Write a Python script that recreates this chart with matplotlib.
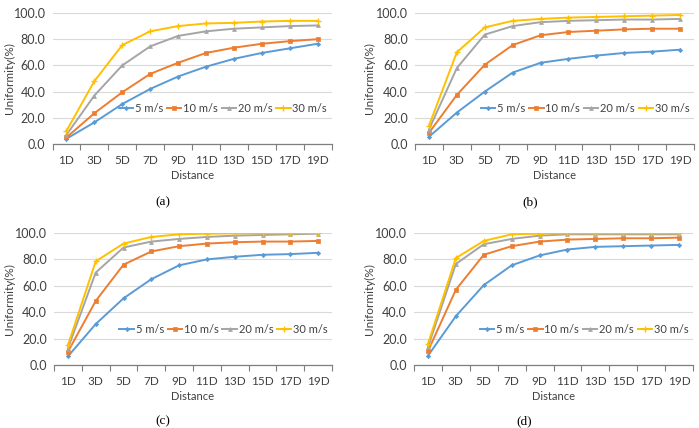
import matplotlib
matplotlib.use("Agg")
import matplotlib.pyplot as plt
from matplotlib.ticker import FixedLocator, NullFormatter
from matplotlib.transforms import blended_transform_factory

categories = ["1D", "3D", "5D", "7D", "9D", "11D", "13D", "15D", "17D", "19D"]
series_names = ["5 m/s", "10 m/s", "20 m/s", "30 m/s"]
yticks = [0, 20, 40, 60, 80, 100]

a_5 = [4.0, 16.5, 30.5, 42.0, 51.5, 59.0, 65.0, 69.5, 73.0, 76.5]
a_10 = [5.0, 23.5, 39.5, 53.5, 62.0, 69.5, 73.5, 76.5, 78.5, 80.0]
a_20 = [7.0, 37.0, 60.0, 74.5, 82.5, 86.0, 88.0, 89.0, 90.0, 90.5]
a_30 = [10.0, 48.0, 75.5, 86.0, 90.0, 92.0, 92.5, 93.5, 94.0, 94.0]

b_5 = [5.5, 24.0, 40.0, 54.5, 62.0, 65.0, 67.5, 69.5, 70.5, 72.0]
b_10 = [8.5, 37.5, 60.5, 75.5, 83.0, 85.5, 86.5, 87.5, 88.0, 88.0]
b_20 = [11.0, 58.0, 83.5, 90.0, 93.0, 94.0, 94.5, 95.0, 95.0, 95.5]
b_30 = [14.0, 70.0, 89.0, 94.0, 95.5, 96.5, 97.0, 97.5, 98.0, 98.5]

c_5 = [6.5, 31.0, 50.5, 65.0, 75.5, 80.0, 82.0, 83.5, 84.0, 85.0]
c_10 = [10.0, 48.5, 76.0, 86.0, 90.0, 92.0, 93.0, 93.5, 93.5, 94.0]
c_20 = [12.5, 70.0, 89.0, 93.5, 95.5, 97.0, 98.0, 98.5, 99.0, 99.5]
c_30 = [15.0, 78.5, 92.0, 97.0, 99.0, 99.5, 99.7, 99.8, 99.8, 100.0]

d_5 = [7.0, 37.0, 60.5, 75.5, 83.0, 87.5, 89.5, 90.0, 90.5, 91.0]
d_10 = [10.5, 57.0, 83.5, 90.0, 93.5, 95.0, 95.5, 96.0, 96.0, 96.5]
d_20 = [13.5, 76.5, 91.5, 95.5, 98.0, 99.0, 99.0, 99.0, 99.0, 99.0]
d_30 = [16.0, 81.0, 94.0, 99.0, 99.5, 99.8, 99.8, 99.8, 99.8, 99.8]

captions = ["(a)", "(b)", "(c)", "(d)"]
panels = [
    [a_5, a_10, a_20, a_30],
    [b_5, b_10, b_20, b_30],
    [c_5, c_10, c_20, c_30],
    [d_5, d_10, d_20, d_30],
]

colors = ["#5B9BD5", "#ED7D31", "#A5A5A5", "#FFC000"]
markers = ["D", "s", "^", "+"]
msizes = [2.2, 2.6, 2.8, 4.0]

plt.rcParams["font.family"] = ["Lato", "DejaVu Sans"]

W, H = 699, 428
fig = plt.figure(figsize=(W / 100, H / 100), dpi=100)

# pixel boxes: left, right, top(100), bottom(0)
boxes = [
    (52.5, 331.5, 13, 144),
    (415, 694, 13, 144),
    (54, 332, 233, 365),
    (414, 693, 233, 365),
]
ylabel_x = [9, 369, 9, 369]
cap_pos = [(163, 202), (530, 202), (163, 421), (524, 421)]

for i, (box, data) in enumerate(zip(boxes, panels)):
    l, r, t, b = box
    ax = fig.add_axes([l / W, 1 - b / H, (r - l) / W, (b - t) / H])
    x = list(range(len(categories)))
    for s, name in enumerate(series_names):
        ax.plot(x, data[s], color=colors[s], marker=markers[s], ms=msizes[s],
                lw=1.4, label=name, mew=1.0 if markers[s] == "+" else 0.5)
    ax.set_xlim(-0.5, len(categories) - 0.5)
    ax.set_ylim(0, 100)
    ax.set_yticks(yticks)
    ax.set_yticklabels([f"{v:.1f}" for v in yticks])
    ax.set_xticks(x)
    ax.set_xticklabels(categories)
    ax.xaxis.set_minor_locator(FixedLocator([k - 0.5 for k in range(len(categories) + 1)]))
    ax.xaxis.set_minor_formatter(NullFormatter())
    ax.tick_params(axis="x", which="major", length=0, pad=8, labelsize=8.5, colors="#404040")
    ax.tick_params(axis="x", which="minor", length=4, width=0.8, color="#7f7f7f", direction="out")
    ax.tick_params(axis="y", length=0, pad=5, labelsize=9, colors="#404040")
    for sp in ["top", "right", "left"]:
        ax.spines[sp].set_visible(False)
    ax.spines["bottom"].set_color("#7f7f7f")
    ax.spines["bottom"].set_linewidth(0.9)
    ax.grid(axis="y", color="#d9d9d9", lw=0.8)
    ax.set_axisbelow(True)
    ax.set_xlabel("Distance", fontsize=8, color="#404040", labelpad=3)
    ax.set_ylabel("Uniformity(%)", fontsize=8.5, color="#404040", va="center")
    ax.yaxis.set_label_coords((ylabel_x[i] - l) / (r - l), 0.5)
    leg = ax.legend(loc="center", bbox_to_anchor=(0.61, 0.27), ncol=4, frameon=False,
                    fontsize=8, handlelength=1.3, handletextpad=0.15, columnspacing=0.35,
                    labelcolor="#404040", borderpad=0.1)
    cx, cy = cap_pos[i]
    fig.text(cx / W, 1 - cy / H, captions[i], ha="center", va="center",
             fontsize=9.5, family=["Liberation Serif", "DejaVu Serif"])

fig.savefig("out.png", dpi=100)
